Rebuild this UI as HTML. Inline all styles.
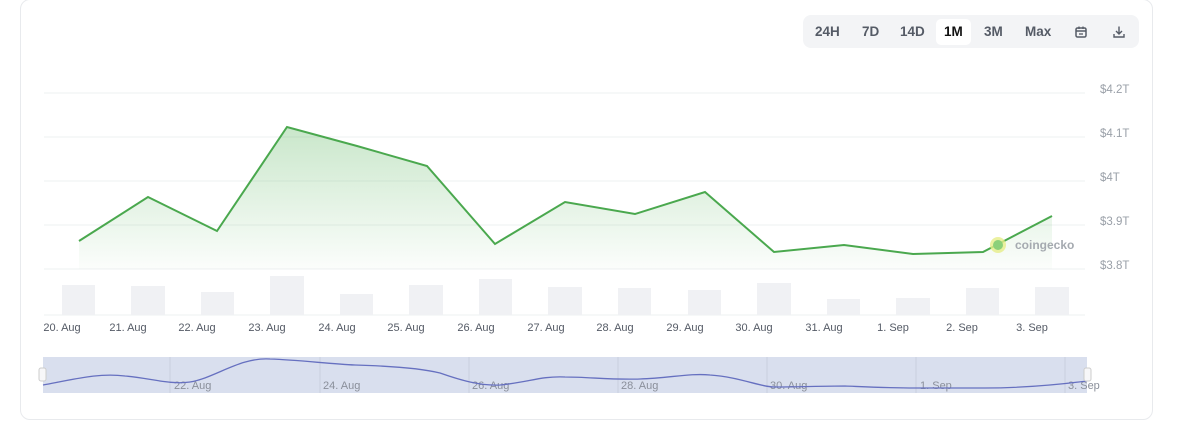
<!DOCTYPE html>
<html><head><meta charset="utf-8"><style>
html,body{margin:0;padding:0;background:#fff;width:1200px;height:437px;overflow:hidden;font-family:"Liberation Sans",sans-serif}
.card{position:absolute;left:20px;top:-1px;width:1133px;height:421px;border:1px solid #e8eaed;border-radius:10px;box-sizing:border-box}
.tabs{position:absolute;left:803px;top:15px;width:336px;height:33px;background:#f3f4f6;border-radius:8px}
.tab{position:absolute;top:9px;font-size:13.5px;font-weight:bold;color:#555b66;text-align:center}
.act{position:absolute;left:133px;top:4px;width:35px;height:26px;background:#fff;border-radius:5px}
</style></head><body>
<div class="card"></div>
<div class="tabs">
<div class="act"></div>
<div class="tab" style="left:12px">24H</div>
<div class="tab" style="left:59px">7D</div>
<div class="tab" style="left:97px">14D</div>
<div class="tab" style="left:141px;color:#111">1M</div>
<div class="tab" style="left:181px">3M</div>
<div class="tab" style="left:222px">Max</div>
<svg style="position:absolute;left:271px;top:10px" width="14" height="14" viewBox="0 0 14 14"><rect x="2" y="3" width="10" height="9" rx="1.5" fill="none" stroke="#555b66" stroke-width="1.5"/><line x1="2" y1="6" x2="12" y2="6" stroke="#555b66" stroke-width="1.5"/><line x1="5" y1="1.5" x2="5" y2="4" stroke="#555b66" stroke-width="1.3"/><line x1="9" y1="1.5" x2="9" y2="4" stroke="#555b66" stroke-width="1.3"/><line x1="5" y1="9" x2="9" y2="9" stroke="#555b66" stroke-width="1.3"/></svg>
<svg style="position:absolute;left:309px;top:10px" width="14" height="14" viewBox="0 0 14 14" fill="none" stroke="#555b66" stroke-width="1.4"><path d="M7 1.5v7M4 6l3 3 3-3M2 9v3h10V9"/></svg>
</div>
<svg width="1200" height="437" style="position:absolute;left:0;top:0" font-family="Liberation Sans, sans-serif">
<defs><linearGradient id="g" x1="0" y1="0" x2="0" y2="1"><stop offset="0" stop-color="#4caf50" stop-opacity="0.3"/><stop offset="1" stop-color="#4caf50" stop-opacity="0.02"/></linearGradient></defs>
<g stroke="#eef0f2" stroke-width="1">
<line x1="44" y1="93" x2="1085" y2="93"/><line x1="44" y1="137" x2="1085" y2="137"/><line x1="44" y1="181" x2="1085" y2="181"/><line x1="44" y1="225" x2="1085" y2="225"/><line x1="44" y1="269" x2="1085" y2="269"/><line x1="44" y1="315" x2="1085" y2="315"/>
</g>
<g fill="#9aa0a8" font-size="11.5">
<text x="1100" y="93">$4.2T</text><text x="1100" y="137">$4.1T</text><text x="1100" y="181">$4T</text><text x="1100" y="225">$3.9T</text><text x="1100" y="269">$3.8T</text>
</g>
<g fill="#f0f1f4">
<rect x="62" y="285" width="33" height="30"/><rect x="131" y="286" width="34" height="29"/><rect x="201" y="292" width="33" height="23"/><rect x="270" y="276" width="34" height="39"/><rect x="340" y="294" width="33" height="21"/><rect x="409" y="285" width="34" height="30"/><rect x="479" y="279" width="33" height="36"/><rect x="548" y="287" width="34" height="28"/><rect x="618" y="288" width="33" height="27"/><rect x="688" y="290" width="33" height="25"/><rect x="757" y="283" width="34" height="32"/><rect x="827" y="299" width="33" height="16"/><rect x="896" y="298" width="34" height="17"/><rect x="966" y="288" width="33" height="27"/><rect x="1035" y="287" width="34" height="28"/>
</g>
<path d="M79 241L148 197L217 231L287 127L357 146L427 166L495 244L565 202L635 214L705 192L774 252L844 245L913 254L983 252L1052 216L1052 269L79 269Z" fill="url(#g)"/>
<path d="M79 241L148 197L217 231L287 127L357 146L427 166L495 244L565 202L635 214L705 192L774 252L844 245L913 254L983 252L1052 216" fill="none" stroke="#4aa84e" stroke-width="2"/>
<circle cx="998" cy="245" r="8" fill="#e6ee88" opacity="0.8"/><circle cx="998" cy="245" r="5" fill="#8cd07a"/>
<text x="1015" y="249" font-size="12" font-weight="bold" fill="#a5aab0">coingecko</text>
<g fill="#555b66" font-size="11">
<text x="62" y="331" text-anchor="middle">20. Aug</text><text x="128" y="331" text-anchor="middle">21. Aug</text><text x="197" y="331" text-anchor="middle">22. Aug</text><text x="267" y="331" text-anchor="middle">23. Aug</text><text x="337" y="331" text-anchor="middle">24. Aug</text><text x="406" y="331" text-anchor="middle">25. Aug</text><text x="476" y="331" text-anchor="middle">26. Aug</text><text x="546" y="331" text-anchor="middle">27. Aug</text><text x="615" y="331" text-anchor="middle">28. Aug</text><text x="685" y="331" text-anchor="middle">29. Aug</text><text x="754" y="331" text-anchor="middle">30. Aug</text><text x="824" y="331" text-anchor="middle">31. Aug</text><text x="893" y="331" text-anchor="middle">1. Sep</text><text x="962" y="331" text-anchor="middle">2. Sep</text><text x="1032" y="331" text-anchor="middle">3. Sep</text>
</g>
<rect x="43" y="357" width="1044" height="36" fill="#d9dfee"/>
<g stroke="#c9cfdf"><line x1="170" y1="357" x2="170" y2="393"/><line x1="320" y1="357" x2="320" y2="393"/><line x1="469" y1="357" x2="469" y2="393"/><line x1="618" y1="357" x2="618" y2="393"/><line x1="767" y1="357" x2="767" y2="393"/><line x1="916" y1="357" x2="916" y2="393"/><line x1="1065" y1="357" x2="1065" y2="393"/></g>
<g fill="#8a8f9a" font-size="11"><text x="174" y="389">22. Aug</text><text x="323" y="389">24. Aug</text><text x="472" y="389">26. Aug</text><text x="621" y="389">28. Aug</text><text x="770" y="389">30. Aug</text><text x="920" y="389">1. Sep</text><text x="1068" y="389">3. Sep</text></g>
<path d="M43 385C80 378 100 373 125 376C150 378 170 385 190 382C215 378 240 357 270 359C300 360 330 364 355 365C390 366 420 368 440 373C460 380 480 386 500 385C530 382 540 376 565 377C590 377 610 380 640 379C670 378 690 373 710 375C740 377 760 387 775 387C800 387 820 386 845 386C870 387 890 388 915 388C940 388 960 388 985 388C1010 388 1040 387 1087 381" fill="none" stroke="#6670c0" stroke-width="1.3"/>
<rect x="39" y="368" width="7" height="13" rx="2" fill="#f7f7f9" stroke="#ccc"/>
<rect x="1084" y="368" width="7" height="13" rx="2" fill="#f7f7f9" stroke="#ccc"/>
</svg>
</body></html>
